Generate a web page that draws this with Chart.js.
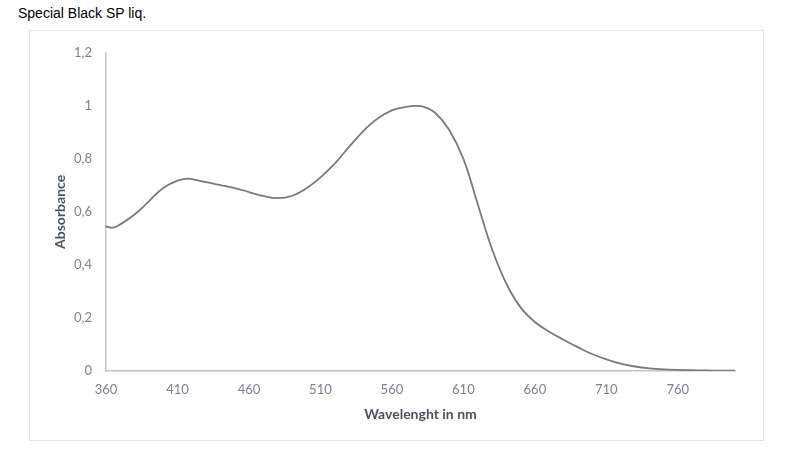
<!DOCTYPE html>
<html>
<head>
<meta charset="utf-8">
<script src="https://cdn.jsdelivr.net/npm/chart.js@4.4.1/dist/chart.umd.min.js"></script>
<style>
  html, body { margin: 0; padding: 0; background: #ffffff; }
  body { width: 800px; height: 458px; position: relative; overflow: hidden; }
  #title { position: absolute; left: 18px; top: 5px; font-family: "Liberation Sans", Arial, sans-serif; font-size: 14px; color: #000; }
  #frame { position: absolute; left: 29px; top: 30px; width: 733px; height: 409px; border: 1px solid #dfe3ea; }
  #wrap { position: absolute; left: 0; top: 0; width: 733px; height: 409px; }
</style>
</head>
<body>
<div id="title">Special Black SP liq.</div>
<div id="frame"><div id="wrap"><canvas id="c"></canvas></div></div>
<script>
const wavelengths = [360, 365, 370, 380, 390, 400, 410, 417, 420, 430, 440, 450, 460, 470, 480, 490, 500, 510, 520, 530, 540, 550, 560, 570, 576, 582, 590, 600, 610, 620, 630, 640, 650, 660, 670, 680, 690, 700, 710, 720, 730, 740, 750, 760, 770, 780, 790, 800];
const absorbance  = [0.545, 0.541, 0.553, 0.59, 0.64, 0.69, 0.718, 0.725, 0.724, 0.712, 0.701, 0.69, 0.675, 0.66, 0.652, 0.66, 0.688, 0.73, 0.782, 0.845, 0.905, 0.952, 0.983, 0.996, 1.0, 0.997, 0.975, 0.91, 0.80, 0.63, 0.46, 0.33, 0.24, 0.185, 0.148, 0.118, 0.09, 0.064, 0.044, 0.028, 0.017, 0.01, 0.006, 0.004, 0.003, 0.002, 0.001, 0.001];
const xTicks = [360, 410, 460, 510, 560, 610, 660, 710, 760];
const yTicks = [0, 0.2, 0.4, 0.6, 0.8, 1, 1.2];
const yTickLabels = ["0", "0,2", "0,4", "0,6", "0,8", "1", "1,2"];

const points = wavelengths.map((w, i) => ({ x: w, y: absorbance[i] }));
const axisColor = '#bcc4d2';
const tickColor = '#7a8291';
const titleColor = '#4a5364';

new Chart(document.getElementById('c'), {
  type: 'line',
  data: {
    datasets: [{
      data: points,
      borderColor: '#7a7a7a',
      borderWidth: 1.8,
      pointRadius: 0,
      fill: false,
      tension: 0.4
    }]
  },
  options: {
    responsive: true,
    maintainAspectRatio: false,
    animation: false,
    layout: { padding: { top: 18, right: 28, left: 0, bottom: 0 } },
    plugins: { legend: { display: false }, tooltip: { enabled: false } },
    scales: {
      x: {
        type: 'linear',
        min: 360,
        max: 800,
        afterBuildTicks: (s) => { s.ticks = xTicks.map(v => ({ value: v })); },
        afterFit: (s) => { s.height = 69; },
        grid: { display: false, drawTicks: false },
        border: { display: true, color: axisColor, width: 1.5 },
        ticks: { color: tickColor, padding: 11, maxRotation: 0, autoSkip: false, font: { family: 'Lato', size: 13 } },
        title: { display: true, text: 'Wavelenght in nm', color: titleColor, padding: { top: 0, bottom: 17 }, font: { family: 'Lato', size: 14, weight: 'bold' } }
      },
      y: {
        min: 0,
        max: 1.2,
        afterBuildTicks: (s) => { s.ticks = yTicks.map(v => ({ value: v })); },
        afterFit: (s) => { s.width = 76; },
        grid: { display: false, drawTicks: false },
        border: { display: true, color: axisColor, width: 1.5 },
        ticks: {
          color: tickColor, padding: 14, autoSkip: false, font: { family: 'Lato', size: 13 },
          callback: (v) => { const i = yTicks.findIndex(t => Math.abs(t - v) < 1e-9); return i >= 0 ? yTickLabels[i] : ''; }
        },
        title: { display: true, text: 'Absorbance', color: titleColor, padding: { top: 22, bottom: 0 }, font: { family: 'Lato', size: 14, weight: 'bold' } }
      }
    }
  }
});
</script>
</body>
</html>
